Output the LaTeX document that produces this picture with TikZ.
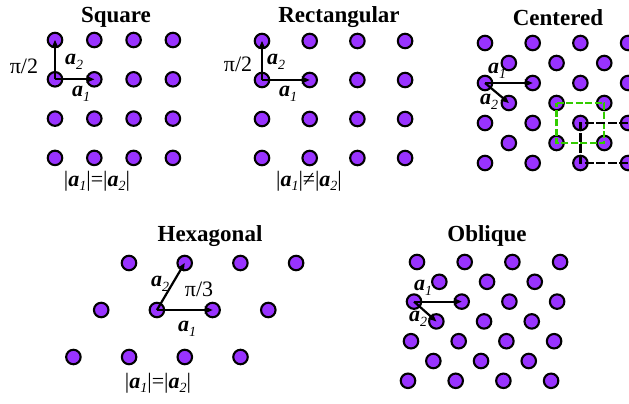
\documentclass[tikz,border=0pt]{standalone}
\usepackage{fontspec}
\setmainfont{Liberation Serif}
\usetikzlibrary{arrows.meta}
\definecolor{latpurple}{RGB}{153,51,255}
\definecolor{latgreen}{RGB}{51,204,0}
\newcommand{\latv}[1]{\textbf{\textit{a}}\raisebox{-0.45ex}{\fontsize{14}{14}\selectfont\itshape #1}}
\begin{document}
\begin{tikzpicture}[x=1pt,y=-1pt,
  dot/.style={circle,draw=black,fill=latpurple,line width=2.1pt,minimum size=14.5pt,inner sep=0pt},
  vec/.style={line width=2.2pt,-{Stealth[length=8pt,width=7pt]}},
  title/.style={font=\fontsize{23}{25}\selectfont\bfseries,inner sep=0pt},
  lbl/.style={font=\fontsize{22}{24}\selectfont,inner sep=0pt},
  greenbox/.style={draw=latgreen,line width=2.2pt,dash pattern=on 7pt off 2.5pt},
  blackbox/.style={draw=black,line width=2.2pt,dash pattern=on 9pt off 2.5pt}
  ]
\useasboundingbox (0,0) rectangle (629,404);

% ---------- Square ----------
\foreach \i in {0,...,3}
  \foreach \j in {0,...,3}
    \node[dot] (s-\i-\j) at ({55+39.3*\i},{40+39.3*\j}) {};
\draw[vec] (s-0-1.center) -- (s-1-1.center);
\draw[vec] (s-0-1.center) -- (s-0-0.center);
\node[title] (st) at (116,17) {Square};
\node[lbl] (spi) at (24,66) {π/2};
\node[lbl] (sa2) at (74,62) {\latv{2}};
\node[lbl] (sa1) at (81,94) {\latv{1}};
\node[lbl] (seq) at (97,181) {|\latv{1}|=|\latv{2}|};

% ---------- Rectangular ----------
\foreach \i in {0,...,3}
  \foreach \j in {0,...,3}
    \node[dot] (r-\i-\j) at ({262+47.7*\i},{41+39*\j}) {};
\draw[vec] (r-0-1.center) -- (r-1-1.center);
\draw[vec] (r-0-1.center) -- (r-0-0.center);
\node[title] (rt) at (339,17) {Rectangular};
\node[lbl] (rpi) at (238,64) {π/2};
\node[lbl] (ra2) at (276,62) {\latv{2}};
\node[lbl] (ra1) at (288,94) {\latv{1}};
\node[lbl] (rne) at (309,181) {|\latv{1}|≠|\latv{2}|};

% ---------- Centered ----------
\foreach \i in {0,...,3}
  \foreach \j in {0,...,3}
    \node[dot] (k-\i-\j) at ({485+47.7*\i},{43+40*\j}) {};
\foreach \i in {0,...,2}
  \foreach \j in {0,...,2}
    \node[dot] (c-\i-\j) at ({508.85+47.7*\i},{63+40*\j}) {};
\draw[vec] (k-0-1.center) -- (k-1-1.center);
\draw[vec] (k-0-1.center) -- (c-0-1.center);
\draw[greenbox] (c-1-1.center) -- (c-2-1.center) -- (c-2-2.center) -- (c-1-2.center) -- cycle;
\draw[blackbox] (k-3-2.center) -- (k-2-2.center) -- (k-2-3.center) -- (k-3-3.center);
\node[title] (kt) at (558,18) {Centered};
\node[lbl] (ka1) at (497,71) {\latv{1}};
\node[lbl] (ka2) at (489,102) {\latv{2}};

% ---------- Hexagonal ----------
\foreach \i in {0,...,3}
  \foreach \j in {0,...,2}
    \node[dot] (h-\i-\j) at ({129+55.7*\i-27.8*\j},{263+47*\j}) {};
\draw[vec] (h-1-1.center) -- (h-2-1.center);
\draw[vec] (h-1-1.center) -- (h-1-0.center);
\node[title] (ht) at (210,236) {Hexagonal};
\node[lbl] (ha2) at (160,284) {\latv{2}};
\node[lbl] (hpi) at (199,289) {π/3};
\node[lbl] (ha1) at (187,329) {\latv{1}};
\node[lbl] (heq) at (158,383) {|\latv{1}|=|\latv{2}|};

% ---------- Oblique ----------
\foreach \j/\x/\n in {0/417/3,1/439.35/2,2/414/3,3/436.35/2,4/411/3,5/433.35/2,6/408/3}
  \foreach \i in {0,...,\n}
    \node[dot] (o-\i-\j) at ({\x+47.7*\i},{262+19.8*\j}) {};
\draw[vec] (o-0-2.center) -- (o-1-2.center);
\draw[vec] (o-0-2.center) -- (o-0-3.center);
\node[title] (ot) at (487,236) {Oblique};
\node[lbl] (oa1) at (423,288) {\latv{1}};
\node[lbl] (oa2) at (418,319) {\latv{2}};
\end{tikzpicture}
\end{document}
